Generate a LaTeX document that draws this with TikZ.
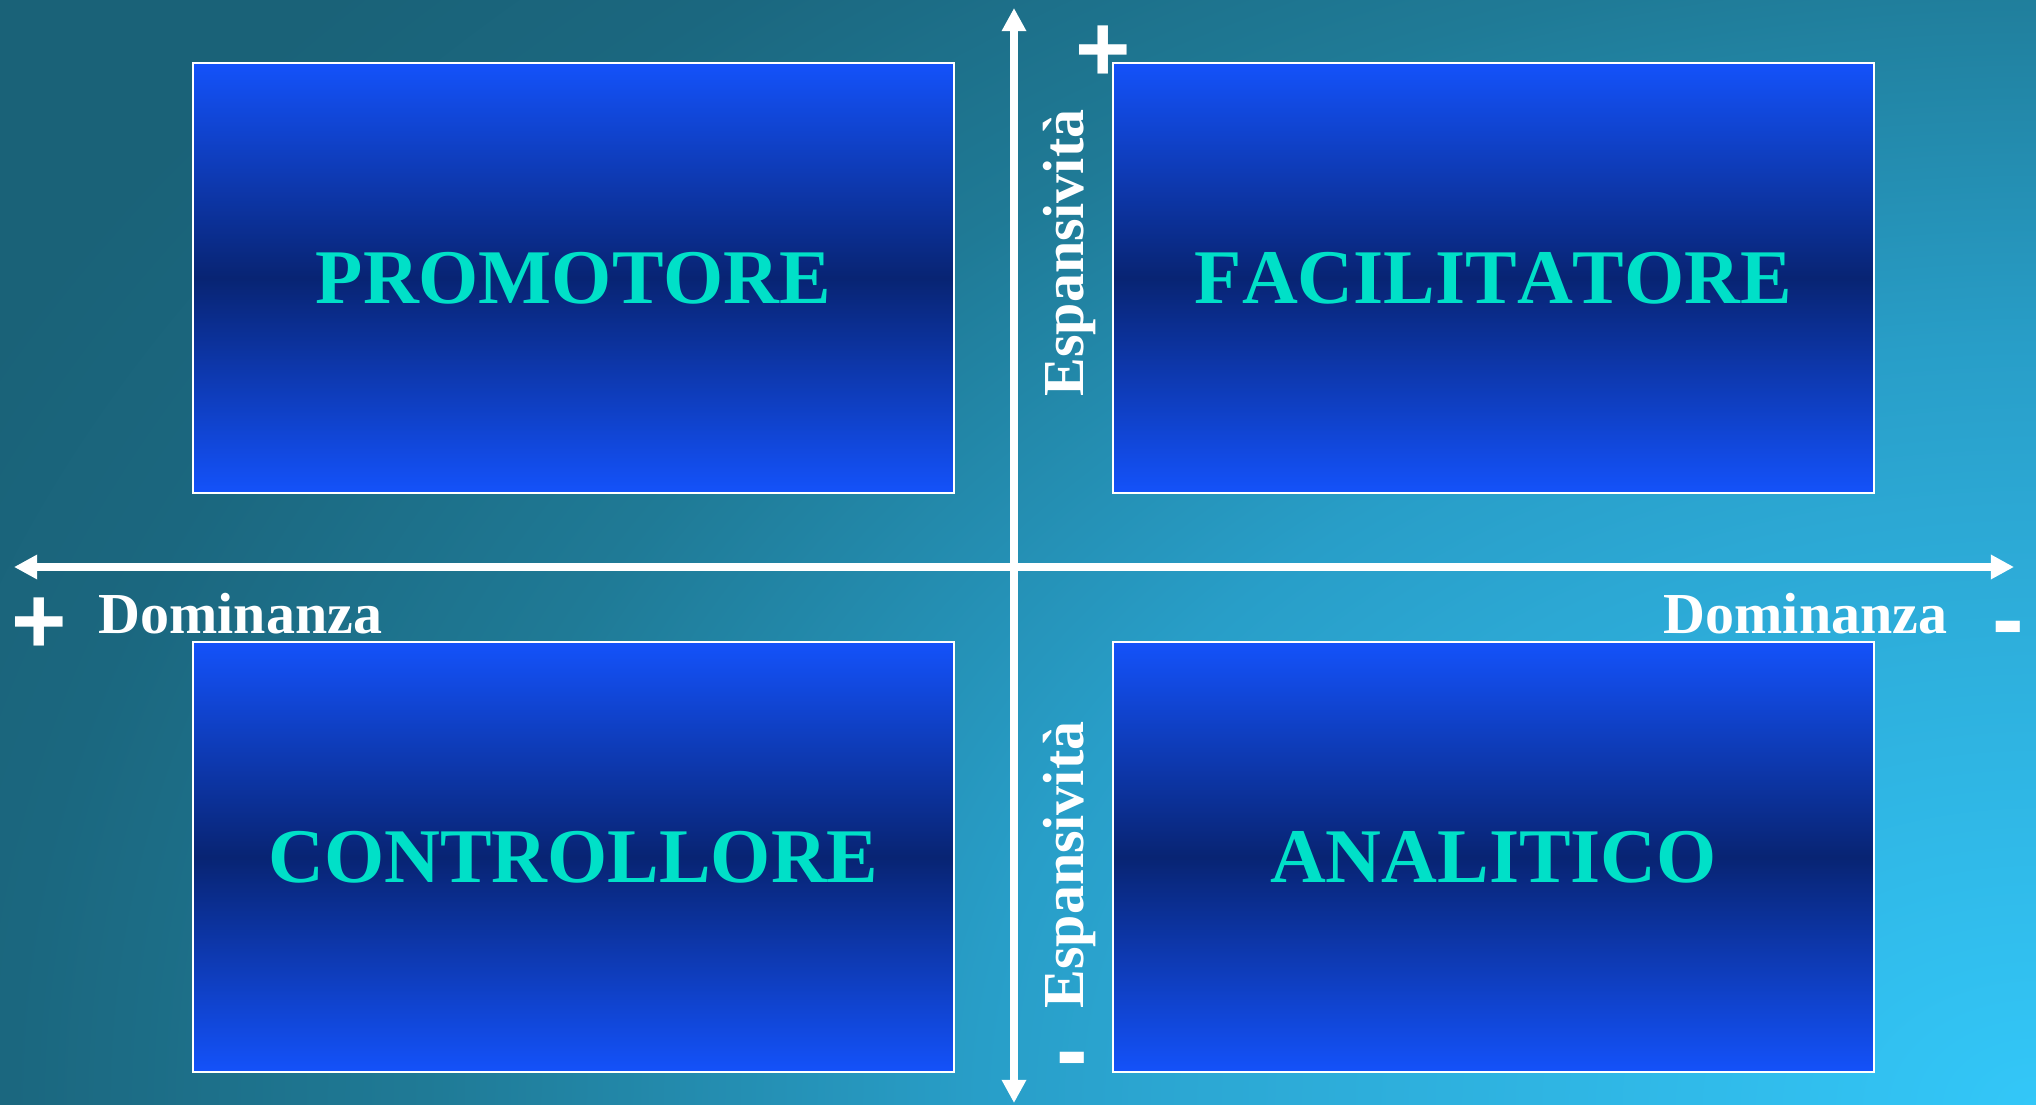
\documentclass[tikz,border=0pt]{standalone}
\usepackage{fontspec}
\setmainfont{Liberation Serif}
\newfontfamily\signfont{Liberation Sans}
\newfontfamily\quadfont[Kerning=Off]{Liberation Serif}
\usetikzlibrary{positioning,arrows.meta}
\definecolor{bgdark}{RGB}{26,98,120}
\definecolor{bgdeep}{RGB}{27,103,127}
\definecolor{bgteal}{RGB}{31,122,150}
\definecolor{bgsoft}{RGB}{40,158,200}
\definecolor{bgmid}{RGB}{44,168,212}
\definecolor{bgbright}{RGB}{51,199,248}
\definecolor{boxtop}{RGB}{20,82,250}
\definecolor{boxmid}{RGB}{8,36,115}
\definecolor{labelcyan}{RGB}{0,224,200}
% glow from the lower right corner, stops within 25bp
\pgfdeclareradialshading{backglow}{\pgfpoint{0bp}{0bp}}{%
  color(0bp)=(bgbright); color(9bp)=(bgmid); color(11.5bp)=(bgsoft);
  color(17.5bp)=(bgteal); color(22bp)=(bgdeep); color(25bp)=(bgdark); color(50bp)=(bgdark)}

\begin{document}
\begin{tikzpicture}[x=0.1mm,y=-0.1mm]
  \useasboundingbox (0,0) rectangle (2036,1105);
  % background
  \fill[bgdark] (0,0) rectangle (2036,1105);
  \begin{scope}
    \clip (0,0) rectangle (2036,1105);
    \shade[shading=backglow] (2036,1105) ellipse [x radius=2300, y radius=1650];
  \end{scope}
  % quadrants
  \foreach \n/\x/\y/\t in {promotore/573.5/278/PROMOTORE,facilitatore/1493.5/278/FACILITATORE,
                           controllore/573.5/857/CONTROLLORE,analitico/1493.5/857/ANALITICO}{
    \node[draw=white,line width=0.7pt,top color=boxtop,bottom color=boxtop,middle color=boxmid,
          minimum width=76.1mm,minimum height=43mm,inner sep=0pt,text=labelcyan,
          font=\quadfont\fontsize{22}{26}\selectfont\bfseries] (\n) at (\x,\y) {\t};
  }
  % axes
  \coordinate (ytop) at (1014,8);
  \coordinate (ybot) at (1014,1103);
  \coordinate (xleft) at (14,567);
  \coordinate (xright) at (2014,567);
  \draw[white,line width=2pt,{Triangle[length=6.6pt,width=6.6pt]}-{Triangle[length=6.6pt,width=6.6pt]}] (xleft) -- (xright);
  \draw[white,line width=2pt,{Triangle[length=6.6pt,width=6.6pt]}-{Triangle[length=6.6pt,width=6.6pt]}] (ybot) -- (ytop);
  % axis names
  \node[white,font=\fontsize{16.5}{20}\selectfont\bfseries,anchor=base west,inner sep=0pt] (domleft) at (98,633) {Dominanza};
  \node[white,font=\fontsize{16.5}{20}\selectfont\bfseries,anchor=base east,inner sep=0pt] (domright) at (1948,633) {Dominanza};
  \node[white,font=\fontsize{16.5}{20}\selectfont\bfseries,anchor=base,rotate=90,inner sep=0pt] (espup) at (1083,253) {Espansività};
  \node[white,font=\fontsize{16.5}{20}\selectfont\bfseries,anchor=base,rotate=90,inner sep=0pt] (espdown) at (1083,865) {Espansività};
  % signs
  \node[white,font=\signfont\fontsize{27}{30}\selectfont\bfseries,anchor=base,inner sep=0pt] (plusleft) at (39,653) {+};
  \node[white,font=\signfont\fontsize{27}{30}\selectfont\bfseries,anchor=base,inner sep=0pt] (plustop) at (1103,82) {+};
  \node[white,font=\signfont\fontsize{27}{30}\selectfont\bfseries,anchor=base,inner sep=0pt] (minusright) at (2008,651) {-};
  \node[white,font=\signfont\fontsize{27}{30}\selectfont\bfseries,anchor=base,inner sep=0pt] (minusbottom) at (1072,1082) {-};
\end{tikzpicture}
\end{document}
